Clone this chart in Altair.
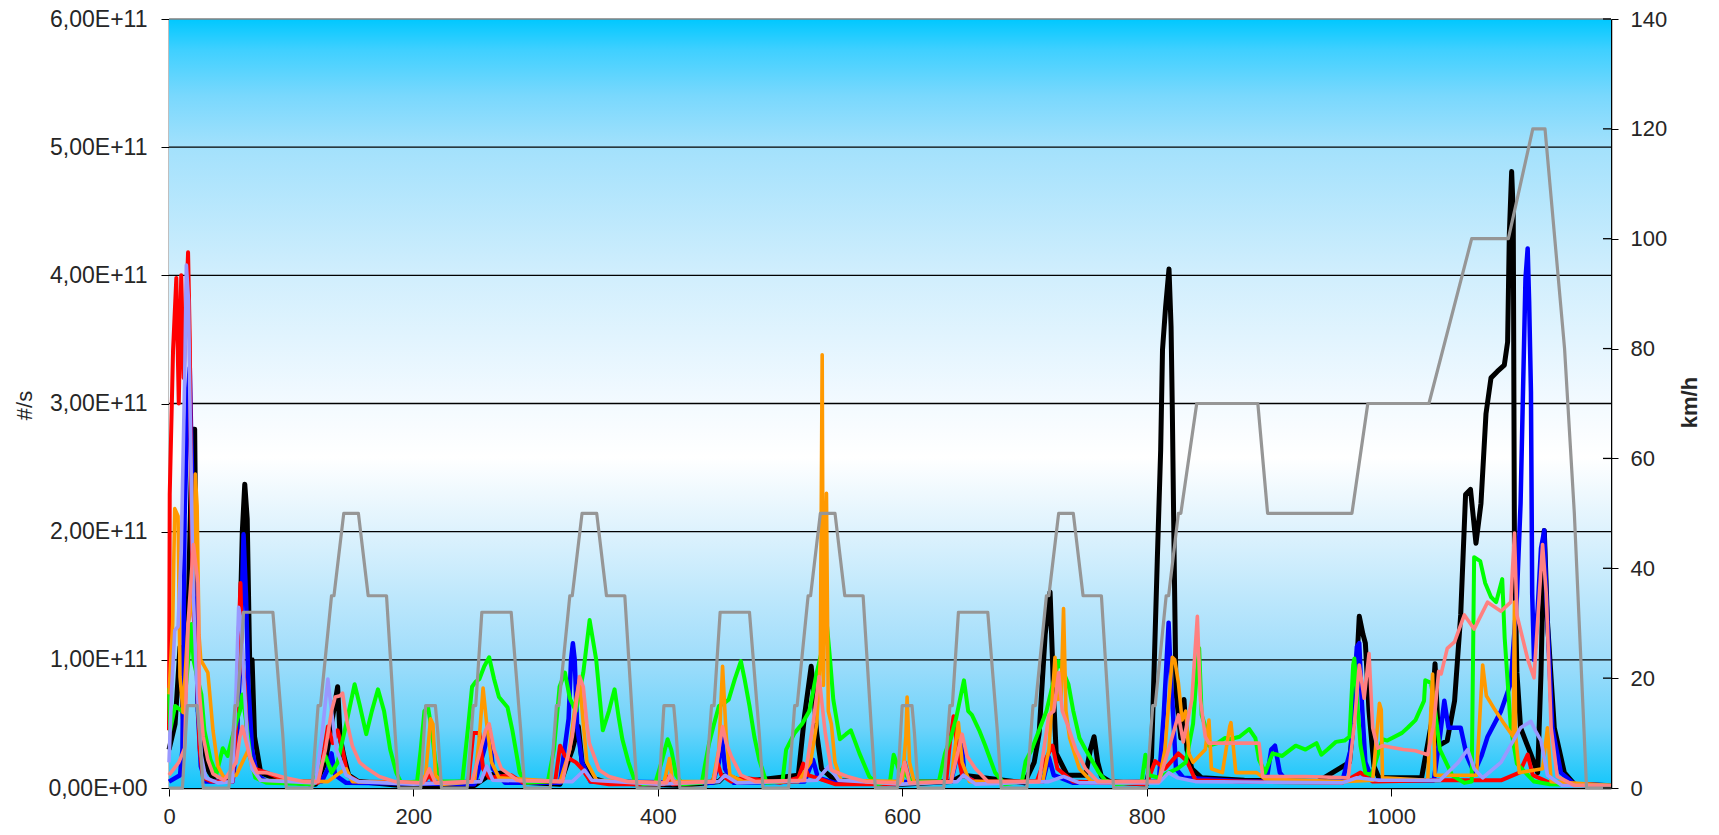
import altair as alt
import pandas as pd

# ---------------- data (time in s, particle rate in units of 1E11 #/s) ----------------
black_t = [0,5,9,12,16,19,21,22.5,24,29,32,38,50,55,58,60,62,64,66,68,70,75,85,95,120,128,133,138,140,143,147,155,190,250,262,273,280,320,330,335,338,345,360,420,450,455,470,515,520,525.5,528,530,534,545,600,640,650,700,708,712,717,721,723,724,726,735,750,754,757,760,763,770,800,804,808.7,811.5,813,815.5,818.3,820,821,822.4,824,828,830.6,833,837,845,880,940,966,970,974,977,979,982,986,990,1025,1033,1036,1039,1046,1052,1057,1061,1065,1069.5,1073.6,1077.7,1081.8,1087,1092.7,1095.4,1096.8,1098.7,1100,1101,1103,1106,1114.5,1120,1122.7,1125.4,1128,1133.6,1141.8,1150,1176]
black_v = [0.3,0.5,1.1,0.5,1.5,2.8,2.8,1.3,0.6,0.22,0.14,0.05,0.05,0.3,1.2,2.0,2.37,2.1,1.0,1.0,0.4,0.12,0.08,0.05,0.03,0.2,0.5,0.79,0.4,0.25,0.1,0.05,0.02,0.02,0.1,0.12,0.05,0.03,0.3,0.48,0.2,0.08,0.04,0.02,0.05,0.1,0.05,0.1,0.56,0.95,0.7,0.43,0.15,0.06,0.03,0.05,0.1,0.04,0.2,0.42,1.2,1.53,0.99,0.69,0.27,0.1,0.1,0.3,0.4,0.2,0.09,0.05,0.03,0.24,1.77,2.64,3.42,3.75,4.05,3.6,2.97,1.89,0.75,0.39,0.69,0.3,0.15,0.08,0.06,0.05,0.2,0.6,1.34,1.2,1.13,0.6,0.17,0.08,0.08,0.5,0.97,0.33,0.37,0.68,1.35,2.29,2.33,1.91,2.22,2.92,3.2,3.25,3.3,3.48,4.32,4.81,4.49,1.87,0.9,0.47,0.26,0.12,0.89,2.01,1.3,0.47,0.12,0.03,0.02]

blue_t = [0,9,11,12.8,15.6,17,18.3,21,23.7,26,30,52,55,58,60,61,63,65,68,72,80,125,130,133,136,145,250,258,262,265,275,320,327,329,330.5,332,334,338,345,445,450,452,455,462,520,527,531,545,640,646,648,651,660,715,720,724,740,810,814,818,820,821,824,830,880,898,902,905,909,915,960,967,969,972,974,976,979,985,1035,1040,1043.6,1047,1057,1062,1068,1074,1079,1090,1098,1103,1106,1110,1111.8,1113,1114.5,1115.5,1117,1120,1122.7,1125.4,1127,1132,1139,1150,1180]
blue_v = [0.05,0.1,0.3,2.12,3.1,3.28,2.68,1.7,0.59,0.17,0.05,0.05,0.3,0.9,1.6,1.98,1.5,0.8,0.3,0.1,0.05,0.05,0.15,0.27,0.1,0.04,0.03,0.3,0.46,0.15,0.04,0.04,0.54,1.0,1.13,1.0,0.48,0.2,0.05,0.04,0.2,0.43,0.15,0.04,0.05,0.22,0.08,0.04,0.05,0.3,0.4,0.1,0.04,0.05,0.24,0.1,0.04,0.05,0.57,1.29,0.8,0.69,0.15,0.08,0.05,0.05,0.3,0.33,0.12,0.05,0.05,0.3,0.61,1.1,1.13,0.69,0.2,0.06,0.06,0.4,0.68,0.47,0.47,0.25,0.12,0.25,0.4,0.6,0.82,1.5,2.22,3.97,4.21,3.8,3.09,1.52,1.0,1.4,1.87,2.01,1.52,0.47,0.12,0.03,0.02]

red_t = [0,0.6,3.3,6,8,10,12,15.6,17,18.3,19.7,22.4,25,27.8,35,52,55,57,58.5,60,62,64,66,70,80,90,100,122,127,130,134,138,142,146,155,208,213,217,245,249,254,257,262,280,290,316,320,324,333,338,345,360,405,407,412,445,449,452,460,470,500,515,519,523,536,545,598,602,606,636,639,642,645,649,660,710,715,723,727,740,800,807,815,826,833,840,880,960,975,985,1040,1090,1105,1111.8,1116,1130,1180]
red_v = [0.45,2.29,3.41,3.98,3.0,4.0,3.2,4.18,3.5,2.1,1.42,1.0,0.31,0.08,0.05,0.05,0.5,1.2,1.6,1.0,0.8,0.4,0.25,0.15,0.12,0.08,0.04,0.04,0.3,0.48,0.35,0.45,0.3,0.1,0.05,0.04,0.1,0.04,0.05,0.43,0.43,0.15,0.08,0.1,0.04,0.05,0.33,0.25,0.2,0.15,0.05,0.03,0.03,0.09,0.03,0.05,0.19,0.1,0.05,0.08,0.04,0.08,0.19,0.1,0.06,0.03,0.03,0.2,0.05,0.05,0.35,0.56,0.3,0.1,0.05,0.05,0.18,0.33,0.15,0.05,0.03,0.21,0.15,0.27,0.21,0.06,0.05,0.04,0.12,0.05,0.06,0.06,0.12,0.26,0.1,0.04,0.02]

green_t = [0,1,5,12,18.3,20,23.7,26.5,29,34,38.8,44,48,51.6,55.6,58,60,63.8,66.5,70.6,80,118,123,128,133,138,145,151.9,156,161.4,166,171,176,181,186,190,203,206,209,212,215,218,222,240,245,248,251,254,258,262,266,270,277,281,287,292,310,315,319.6,324,328,333,339,344.2,349.6,355,360,364.6,368,371,376,381,388,398,403,408,411,415,420,436,439,442,446,450,454,458,463,468,471,475,479,483,489,502,505,512,518,524,530,535,538.5,541,543.6,549,554,558,565,573,580,590,593,597,603,608,630,635,640,644,650.5,654,657,663,668,676,684,698,701,706,712,718,723,728,732,736,740,745,750,755.5,761,766,775,796,799,802,810,818,825,832,838,841,843,845,848,851,858,864,868,876,884,889,892,897,903,911,922,930,939,943,948,955,962,966,969,970,972,975,979,984,993,997,1009,1013.6,1020,1027,1028,1032.7,1036,1040,1050,1060,1066,1068,1073,1077,1081.8,1086,1091,1093,1098,1103,1117,1130,1180]
green_v = [0.78,0.45,0.64,0.59,1.28,1.0,0.84,0.73,0.45,0.22,0.11,0.31,0.25,0.39,0.53,0.6,0.73,0.47,0.25,0.08,0.04,0.03,0.15,0.25,0.12,0.2,0.5,0.81,0.65,0.42,0.6,0.77,0.6,0.3,0.12,0.04,0.05,0.3,0.6,0.63,0.45,0.2,0.05,0.05,0.5,0.79,0.83,0.85,0.95,1.02,0.85,0.71,0.63,0.45,0.12,0.04,0.05,0.3,0.79,0.9,0.7,0.6,0.9,1.31,1.0,0.45,0.6,0.77,0.55,0.38,0.2,0.06,0.03,0.04,0.2,0.38,0.3,0.1,0.03,0.04,0.2,0.35,0.5,0.64,0.66,0.69,0.85,0.99,0.85,0.64,0.4,0.22,0.04,0.05,0.3,0.43,0.5,0.6,0.9,1.1,1.26,1.0,0.69,0.38,0.42,0.45,0.27,0.09,0.03,0.05,0.26,0.15,0.1,0.05,0.05,0.27,0.4,0.54,0.84,0.6,0.57,0.45,0.33,0.12,0.03,0.05,0.21,0.3,0.45,0.6,0.8,0.99,0.9,0.81,0.6,0.39,0.3,0.21,0.12,0.06,0.03,0.05,0.26,0.1,0.08,0.12,0.15,0.2,0.5,0.9,1.09,0.57,0.48,0.33,0.35,0.39,0.38,0.4,0.46,0.39,0.22,0.12,0.27,0.25,0.33,0.3,0.35,0.26,0.3,0.36,0.37,0.4,0.96,1.01,0.72,0.33,0.12,0.1,0.38,0.37,0.43,0.47,0.53,0.68,0.84,0.82,0.61,0.3,0.1,0.04,0.05,1.8,1.77,1.6,1.49,1.45,1.63,1.17,0.47,0.19,0.05,0.03,0.02]

orange_t = [0,3,4.7,7.4,9,11.5,15.6,20,21.5,23,24.5,26,31.8,36,40,45,55,60,65,68,75,130,140,145,150,205,210,214,216,218,225,250,254,257,260,264,270,320,328,333,336,339,342,350,405,409.5,412,445,450,453,456,459,470,515,525,530,533,534.5,535.5,538,539.5,542,545,550,600,603,604,606,610,640,643,646,649,655,715,720,725,727,730,732,734,737,745,755,810,815,821,823,826,829,832,834.6,838,848,851,853,862,868,869,873,890,897,960,985,990.5,992,993,1030,1034,1036,1070,1075,1078,1085,1092,1100,1101,1102,1105,1124,1128,1131,1180]
orange_v = [0.73,1.28,2.18,2.12,0.87,0.59,1.28,1.5,2.45,2.2,1.2,1.0,0.9,0.45,0.17,0.08,0.1,0.2,0.3,0.15,0.06,0.05,0.12,0.15,0.05,0.04,0.1,0.54,0.5,0.1,0.03,0.05,0.4,0.78,0.5,0.2,0.08,0.05,0.3,0.69,0.85,0.5,0.2,0.06,0.04,0.23,0.05,0.05,0.3,0.95,0.4,0.1,0.05,0.05,0.2,0.5,1.0,3.38,0.8,2.3,0.6,0.5,0.2,0.06,0.05,0.4,0.71,0.2,0.04,0.05,0.3,0.51,0.2,0.05,0.05,0.3,1.02,0.69,0.7,1.4,0.6,0.39,0.15,0.05,0.05,0.3,1.02,1.0,0.82,0.53,0.6,0.27,0.2,0.3,0.53,0.15,0.12,0.48,0.51,0.12,0.12,0.07,0.05,0.06,0.66,0.61,0.08,0.06,0.89,0.1,0.1,0.96,0.72,0.61,0.51,0.4,1.45,0.4,0.12,0.15,0.47,0.05,0.02]

lavender_t = [0,2,4.7,7.4,10,12.9,14.2,16,17,19.7,22.4,26.5,30,40,52,55,57,59,61,64,68,75,120,125,130,133,137,145,155,200,255,260,265,330,340,346,400,450,455,465,530,540,548,600,645,650,660,720,732,745,810,818,825,840,960,972,990,1040,1055,1062.7,1068,1075,1090,1106,1114.5,1118,1122.7,1128,1140,1180]
lavender_v = [0.2,0.73,1.23,1.26,1.84,3.24,4.08,3.8,3.1,1.56,0.87,0.25,0.08,0.04,0.05,0.8,1.41,1.3,0.9,0.4,0.15,0.06,0.04,0.4,0.85,0.6,0.3,0.1,0.05,0.03,0.05,0.17,0.06,0.05,0.14,0.06,0.03,0.05,0.1,0.04,0.06,0.17,0.06,0.03,0.05,0.1,0.03,0.05,0.09,0.04,0.04,0.12,0.08,0.05,0.04,0.08,0.06,0.06,0.2,0.3,0.15,0.08,0.2,0.47,0.52,0.45,0.37,0.1,0.02,0.02]

salmon_t = [0,8,12.8,15.6,20,23.7,25,28,31.8,36,45,55,58,60,62,66,72,80,88,95,110,122,128,133,136,140,142,146,150,156,161,172,185,208,213,218,248,255,259,262,266,272,285,322,330,336,339,342,344,352,360,375,407,410,414,446,450,453,456,460,468,480,520,527,532,535,537,542,555,570,598,602,606,640,646,649,653,660,670,712,720,724,728,731,735,742,750,760,810,818,826,830,837,841.5,844,848,851,859,875,892,895,930,965,970,974,978,982,985,989,993,1010,1020,1030,1035,1039,1041,1046,1052,1060,1068,1079,1090,1098,1101,1103,1112,1117,1124,1127,1131,1136,1150,1180]
salmon_v = [0.1,0.2,0.31,1.28,1.9,1.6,0.73,0.4,0.22,0.11,0.06,0.2,0.4,0.48,0.4,0.25,0.12,0.12,0.1,0.08,0.05,0.05,0.3,0.6,0.71,0.72,0.74,0.5,0.33,0.2,0.16,0.09,0.05,0.04,0.15,0.04,0.05,0.3,0.45,0.5,0.3,0.15,0.06,0.05,0.4,0.87,0.79,0.5,0.35,0.14,0.09,0.05,0.04,0.1,0.04,0.05,0.3,0.48,0.35,0.25,0.1,0.05,0.06,0.5,0.87,0.6,0.43,0.14,0.09,0.05,0.04,0.2,0.04,0.05,0.3,0.42,0.25,0.15,0.05,0.05,0.57,0.6,0.9,0.6,0.5,0.3,0.15,0.05,0.05,0.3,0.57,0.36,0.69,1.34,0.69,0.4,0.35,0.35,0.35,0.35,0.09,0.09,0.08,0.5,0.96,0.7,1.05,0.47,0.31,0.33,0.3,0.29,0.26,0.5,0.91,0.89,1.09,1.14,1.35,1.24,1.45,1.38,1.45,1.99,1.35,1.0,0.86,1.9,1.52,0.47,0.09,0.02,0.02]

# vehicle speed (km/h), right axis
speed_t = [0,11,15,23,25,28,49,54,56,61,85,93,96,117,122,124,133,135,143,155,163,176,178,185,188,
           195,206,210,218,220,223,244,249,251,256,280,288,291,312,317,319,328,330,338,350,358,371,373,380,383,
           390,401,405,413,415,418,439,444,446,451,475,483,486,507,512,514,523,525,533,545,553,566,568,575,578,
           585,596,600,608,610,613,634,639,641,646,670,678,681,702,707,709,718,720,728,740,748,761,763,770,773,
           800,805,807,816,818,826,828,841,891,899,968,981,1031,1066,1096,1116,1126,1142,1150,1160,1180]
speed_v = [0,0,15,15,10,0,0,15,15,32,32,10,0,0,15,15,35,35,50,50,35,35,35,10,0,
           0,0,15,15,10,0,0,15,15,32,32,10,0,0,15,15,35,35,50,50,35,35,35,10,0,
           0,0,15,15,10,0,0,15,15,32,32,10,0,0,15,15,35,35,50,50,35,35,35,10,0,
           0,0,15,15,10,0,0,15,15,32,32,10,0,0,15,15,35,35,50,50,35,35,35,10,0,
           0,15,15,35,35,50,50,70,70,50,50,70,70,100,100,120,120,80,50,0,0]

left_ticks = [0, 1, 2, 3, 4, 5, 6]
grid_vals = [1, 2, 3, 4, 5]
right_ticks = [0, 20, 40, 60, 80, 100, 120, 140]
x_ticks = [0, 200, 400, 600, 800, 1000]

W, H = 1442, 769
FONT = "Liberation Sans"
LBL = "#262626"

xenc = alt.X("t:Q", scale=alt.Scale(domain=[0, 1180], nice=False, zero=False),
             axis=alt.Axis(values=x_ticks, format="d", title=None, grid=False, labelFont=FONT,
                           labelFontSize=22, labelColor=LBL, tickColor="black", tickSize=8,
                           domainColor="black", domainWidth=1.5, labelPadding=10, labelFlush=False,
                           labelOverlap=False))

left_axis = alt.Axis(values=left_ticks, title="#/s", grid=False, labelFont=FONT, labelFontSize=23,
                     labelColor=LBL, tickColor="black", tickSize=8, domainColor="black",
                     domainWidth=1.5, labelPadding=14,
                     labelExpr="datum.value == 0 ? '0,00E+00' : replace(format(datum.value, '.2f'), '.', ',') + 'E+11'",
                     titleFont=FONT, titleFontSize=22, titleFontWeight="normal", titleColor=LBL,
                     titleAngle=-90, titleX=-145, titleY=386, titleAlign="center", titleBaseline="middle")
yleft = alt.Y("v:Q", scale=alt.Scale(domain=[0, 6], nice=False, zero=True), axis=left_axis)

grad = {"gradient": "linear", "x1": 0, "y1": 0, "x2": 0, "y2": 1,
        "stops": [{"offset": 0.0, "color": "#00C8FF"}, {"offset": 0.04, "color": "#3FD0FF"},
                  {"offset": 0.10, "color": "#79D8FD"}, {"offset": 0.167, "color": "#A3E1FC"},
                  {"offset": 0.33, "color": "#D0EEFD"}, {"offset": 0.5, "color": "#F3FAFF"},
                  {"offset": 0.57, "color": "#FFFFFF"}, {"offset": 0.667, "color": "#DDF2FD"},
                  {"offset": 0.833, "color": "#9FDDFB"}, {"offset": 0.92, "color": "#6ED3FA"},
                  {"offset": 1.0, "color": "#12C6FB"}]}

bg = alt.Chart(pd.DataFrame({"a": [0]})).mark_rect(fill=grad, stroke=None).encode(
    x=alt.value(0), x2=alt.value(W), y=alt.value(0), y2=alt.value(H))

grid = alt.Chart(pd.DataFrame({"v": grid_vals})).mark_rule(color="black", strokeWidth=1.3).encode(y=yleft)
top = alt.Chart(pd.DataFrame({"v": [6]})).mark_rule(color="#808080", strokeWidth=1.3).encode(y=yleft)

def line(ts, vs, color, width):
    df = pd.DataFrame({"t": ts, "v": vs})
    return alt.Chart(df).mark_line(color=color, strokeWidth=width, strokeJoin="round",
                                   strokeCap="butt").encode(x=xenc, y=yleft)

left = alt.layer(
    grid, top,
    line(black_t, black_v, "#000000", 5.0),
    line(blue_t, blue_v, "#0000FF", 4.5),
    line(red_t, red_v, "#FF0000", 4.0),
    line(green_t, green_v, "#00FF00", 4.0),
    line(orange_t, orange_v, "#FF9900", 3.6),
    line(lavender_t, lavender_v, "#9999FF", 3.6),
    line(salmon_t, salmon_v, "#FF8080", 3.6),
)

right_axis = alt.Axis(orient="right", values=right_ticks, title="km/h", grid=False, labelFont=FONT,
                      labelFontSize=22, labelColor=LBL, tickColor="black", tickSize=7,
                      domainColor="black", domainWidth=1.5, labelPadding=12,
                      titleFont=FONT, titleFontSize=22, titleFontWeight="bold", titleColor=LBL,
                      titleAngle=-90, titleX=78, titleY=383, titleAlign="center", titleBaseline="middle")
yright = alt.Y("kmh:Q", scale=alt.Scale(domain=[0, 140], nice=False), axis=right_axis)

speed = alt.Chart(pd.DataFrame({"t": speed_t, "kmh": speed_v})).mark_line(
    color="#969696", strokeWidth=3.2, strokeJoin="round").encode(x=xenc, y=yright)
inner_ticks = alt.Chart(pd.DataFrame({"kmh": right_ticks})).mark_rule(color="black", strokeWidth=1.3).encode(
    y=yright, x=alt.value(W - 8), x2=alt.value(W))

right = alt.layer(speed, inner_ticks)

chart = alt.layer(bg, left, right).resolve_scale(y="independent").properties(
    width=W, height=H,
    padding={"left": 169, "top": 19, "right": 108, "bottom": 47},
    autosize=alt.AutoSizeParams(type="none"),
).configure_view(stroke=None).configure(background="white")

chart.save("out.html", embed_options={"renderer": "svg", "actions": False})
